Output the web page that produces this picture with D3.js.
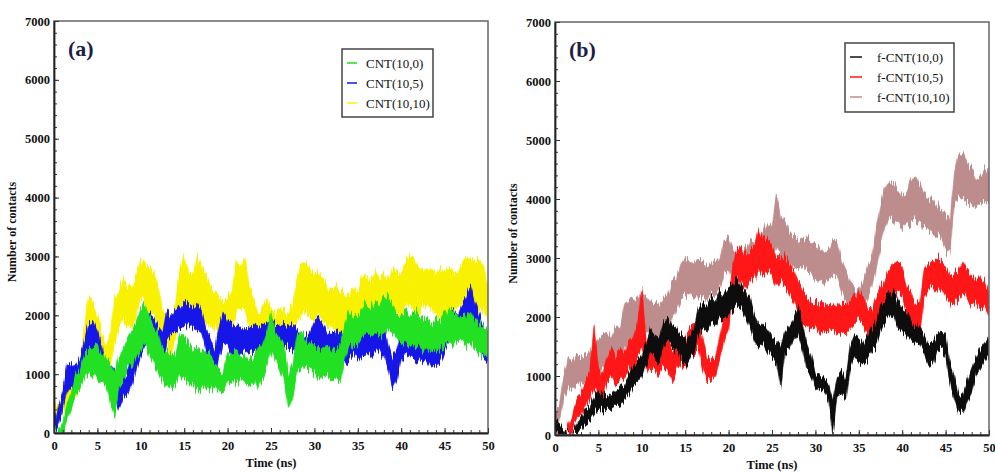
<!DOCTYPE html>
<html>
<head>
<meta charset="utf-8">
<script src="https://cdn.jsdelivr.net/npm/d3@7"></script>
<style>
  body { margin: 0; background: #fff; }
  svg { display: block; }
  text { font-family: "Liberation Serif", "Times New Roman", serif; }
</style>
</head>
<body>
<svg id="chart" width="995" height="473"></svg>
<script>
// time grid, sampled every 0.5 ns (0 .. 50)
const timeStep = 0.5
const times = d3.range(0, 50 + timeStep / 2, timeStep)

const yTicks = [0, 1000, 2000, 3000, 4000, 5000, 6000, 7000]
const xTicks = [0, 5, 10, 15, 20, 25, 30, 35, 40, 45, 50]

// each series read off the picture as a low / high envelope of the noisy trace
// panel (a)
const cnt100Lo = [0, 0, 0, 200, 400, 650, 750, 950, 1000, 950,
  900, 850, 800, 500, 300, 800, 900, 1100, 1100, 1300,
  1400, 1500, 1300, 1150, 1050, 900, 800, 750, 800, 950,
  900, 850, 800, 700, 750, 800, 700, 800, 700, 680,
  850, 900, 850, 950, 850, 800, 900, 750, 900, 1100,
  1400, 1200, 1100, 900, 400, 600, 1000, 1100, 1100, 1050,
  1000, 950, 1000, 950, 900, 950, 900, 1300, 1500, 1450,
  1500, 1650, 1700, 1650, 1700, 1650, 1700, 1750, 1700, 1600,
  1500, 1550, 1450, 1500, 1450, 1400, 1450, 1350, 1400, 1450,
  1500, 1550, 1500, 1550, 1600, 1500, 1550, 1450, 1350, 1300,
  1350]
const cnt100Hi = [30, 50, 200, 500, 700, 1000, 1100, 1350, 1400, 1450,
  1500, 1350, 1250, 1200, 1000, 1300, 1450, 1600, 1750, 1900,
  2100, 2200, 2000, 1800, 1700, 1450, 1400, 1350, 1300, 1700,
  1650, 1550, 1400, 1450, 1400, 1350, 1300, 1200, 1100, 1050,
  1350, 1400, 1400, 1350, 1300, 1250, 1300, 1450, 1500, 1700,
  2050, 1700, 1650, 1500, 1000, 1200, 1650, 1750, 1550, 1500,
  1500, 1450, 1450, 1500, 1400, 1450, 1500, 1850, 2100, 2000,
  1950, 2100, 2200, 2150, 2250, 2200, 2300, 2300, 2200, 2050,
  2000, 2050, 2000, 2100, 2050, 1950, 1900, 1850, 1950, 1900,
  2050, 2100, 2050, 2000, 2000, 1950, 2050, 1900, 1850, 1800,
  1750]

const cnt105Lo = [0, 150, 400, 700, 800, 700, 800, 1100, 1400, 1450,
  1300, 1100, 850, 800, 600, 400, 600, 650, 800, 1100,
  1300, 1450, 1550, 1500, 1300, 1100, 1550, 1700, 1700, 1800,
  1800, 1850, 1800, 1750, 1700, 1400, 1000, 900, 1300, 1500,
  1500, 1350, 1300, 1400, 1400, 1350, 1400, 1400, 1450, 1450,
  1500, 1450, 1450, 1500, 1450, 1450, 1350, 1300, 1300, 1350,
  1400, 1450, 1400, 1350, 1300, 1400, 1300, 1200, 1250, 1350,
  1250, 1300, 1350, 1300, 1350, 1400, 1300, 1100, 750, 900,
  1250, 1350, 1300, 1250, 1200, 1250, 1200, 1100, 1150, 1250,
  1400, 1550, 1600, 1550, 1700, 1800, 1800, 1600, 1400, 1250,
  1200]
const cnt105Hi = [150, 450, 700, 1150, 1200, 1150, 1300, 1600, 1850, 1900,
  1750, 1500, 1100, 1200, 1050, 900, 950, 1000, 1300, 1550,
  1800, 1900, 2050, 2000, 1800, 1700, 2100, 2000, 2100, 2150,
  2250, 2200, 2150, 2200, 2100, 1800, 1600, 1400, 1800, 2050,
  1900, 1850, 1800, 1800, 1750, 1800, 1850, 1800, 1850, 1850,
  1950, 1850, 1800, 1850, 1800, 1850, 1750, 1650, 1650, 1700,
  1900, 1950, 1850, 1700, 1700, 1750, 1700, 1650, 1700, 1750,
  1700, 1750, 1800, 1750, 1800, 1900, 1800, 1500, 1300, 1400,
  1700, 1850, 1800, 1750, 1700, 1800, 1650, 1600, 1700, 1750,
  1800, 2000, 2100, 2000, 2200, 2300, 2500, 2200, 2000, 1800,
  1700]

const cnt1010Lo = [200, 250, 350, 500, 550, 600, 800, 1100, 1500, 1500,
  1300, 1100, 1000, 1200, 1500, 1800, 1900, 1800, 1800, 2000,
  2300, 2200, 2000, 2100, 1800, 1600, 1500, 1300, 1600, 2000,
  2200, 2000, 1950, 2200, 2000, 1900, 1800, 1800, 1700, 1650,
  1700, 1800, 2000, 2100, 2100, 1800, 1500, 1200, 1400, 1600,
  1650, 1600, 1550, 1600, 1600, 1700, 1900, 2000, 2100, 1950,
  1900, 2000, 1900, 1800, 1800, 1750, 1700, 1700, 1650, 1700,
  1650, 1800, 1900, 1850, 1900, 1900, 2000, 1900, 2100, 2100,
  2000, 2100, 2200, 2100, 2050, 2200, 2100, 2150, 2000, 1950,
  2000, 2100, 2050, 2150, 2200, 2300, 2200, 2100, 2050, 2100,
  1900]
const cnt1010Hi = [400, 500, 650, 800, 950, 1000, 1200, 1800, 2350, 2200,
  2000, 1700, 1450, 1700, 2300, 2450, 2600, 2500, 2450, 2700,
  2950, 2900, 2800, 2750, 2500, 2100, 2000, 1950, 2200, 2800,
  3000, 2750, 2700, 3000, 2850, 2700, 2500, 2400, 2300, 2200,
  2300, 2400, 2950, 2800, 3000, 2500, 2300, 2000, 2100, 2300,
  2100, 2050, 2050, 2100, 2000, 2200, 2600, 2900, 2900, 2800,
  2700, 2750, 2600, 2500, 2450, 2500, 2400, 2350, 2400, 2500,
  2350, 2700, 2650, 2600, 2750, 2650, 2700, 2600, 2800, 2750,
  2700, 2900, 3050, 2950, 2800, 2800, 2750, 2800, 2700, 2800,
  2750, 2800, 2750, 2700, 2900, 3000, 2950, 2900, 2950, 2850,
  2400]

// panel (b)
const fcnt100Lo = [50, 0, 0, 0, 0, 50, 100, 200, 250, 350,
  450, 400, 450, 450, 500, 500, 600, 700, 850, 900,
  1000, 1200, 1400, 1300, 1200, 1500, 1600, 1500, 1450, 1300,
  1200, 1250, 1400, 1700, 1800, 1750, 1900, 1850, 2000, 1950,
  2050, 2100, 2200, 2150, 2000, 1800, 1600, 1500, 1550, 1400,
  1300, 1250, 800, 1400, 1450, 1600, 1700, 1450, 1100, 1000,
  800, 750, 750, 600, 0, 650, 700, 600, 1100, 1300,
  1250, 1200, 1300, 1450, 1500, 1750, 1900, 2000, 2050, 1800,
  1750, 1700, 1600, 1550, 1550, 1400, 1200, 1150, 1400, 1450,
  1350, 900, 600, 400, 400, 550, 700, 1000, 1100, 1250,
  1350]
const fcnt100Hi = [250, 200, 100, 30, 30, 200, 300, 450, 480, 650,
  750, 700, 650, 700, 750, 800, 850, 1050, 1200, 1250,
  1350, 1550, 1800, 1700, 1650, 1900, 2000, 1850, 1800, 1700,
  1650, 1650, 1800, 2150, 2250, 2200, 2350, 2250, 2450, 2400,
  2500, 2550, 2650, 2550, 2450, 2300, 2000, 1850, 1900, 1800,
  1650, 1600, 1500, 1750, 1850, 2000, 2150, 1900, 1550, 1350,
  1050, 1000, 950, 900, 600, 1000, 1100, 950, 1500, 1700,
  1650, 1550, 1700, 1800, 1900, 2200, 2300, 2400, 2450, 2250,
  2150, 2100, 1900, 1850, 1850, 1700, 1550, 1550, 1700, 1750,
  1700, 1250, 1000, 650, 700, 900, 1100, 1300, 1450, 1550,
  1650]

const fcnt105Lo = [0, 0, 0, 0, 100, 300, 350, 500, 600, 800,
  700, 600, 900, 1000, 850, 900, 1000, 1150, 1100, 1300,
  1500, 1200, 1050, 1100, 1000, 1150, 1050, 900, 1100, 1200,
  1150, 1300, 1350, 1450, 1100, 900, 950, 1050, 1300, 1600,
  1800, 2300, 2700, 2600, 2500, 2600, 2700, 2800, 2700, 2800,
  2700, 2500, 2600, 2550, 2400, 2300, 2100, 1900, 1850, 1800,
  1850, 1700, 1750, 1750, 1800, 1700, 1750, 1700, 1800, 1900,
  1950, 1850, 1700, 1600, 1800, 2050, 2200, 2300, 2400, 2400,
  2350, 2100, 1900, 1700, 1650, 2300, 2450, 2500, 2450, 2500,
  2350, 2200, 2250, 2300, 2400, 2300, 2200, 2250, 2150, 2200,
  2000]
const fcnt105Hi = [0, 0, 20, 150, 350, 600, 700, 900, 1050, 1850,
  1150, 1000, 1300, 1500, 1350, 1450, 1450, 1600, 1650, 1900,
  2500, 1650, 1550, 1500, 1450, 1700, 1600, 1450, 1500, 1700,
  1650, 1800, 1900, 1950, 1650, 1300, 1300, 1350, 1700, 2050,
  2200, 2900, 3200, 3100, 3050, 3100, 3200, 3500, 3300, 3350,
  3200, 3000, 3050, 3000, 2900, 2800, 2600, 2450, 2350, 2250,
  2300, 2200, 2250, 2200, 2200, 2150, 2250, 2200, 2250, 2400,
  2400, 2350, 2150, 2100, 2350, 2500, 2650, 2800, 2900, 2950,
  2850, 2550, 2400, 2250, 2200, 2800, 2900, 2950, 3000, 2950,
  2850, 2700, 2750, 2800, 2950, 2800, 2700, 2650, 2700, 2600,
  2400]

const fcnt1010Lo = [100, 250, 600, 800, 750, 850, 850, 900, 950, 1000,
  1050, 1100, 1150, 1100, 1200, 1300, 1500, 1600, 1650, 1700,
  1850, 1800, 1700, 1650, 1600, 1700, 1800, 1950, 2100, 2300,
  2350, 2400, 2350, 2300, 2350, 2300, 2400, 2350, 2500, 2750,
  2800, 2600, 2500, 2550, 2650, 2700, 2650, 2750, 2800, 2900,
  2900, 3200, 3050, 3000, 2900, 2850, 2800, 2850, 2800, 2750,
  2650, 2600, 2550, 2650, 2700, 2700, 2450, 2250, 2050, 2000,
  1950, 2150, 2300, 2500, 2800, 3200, 3500, 3700, 3650, 3600,
  3500, 3550, 3600, 3650, 3600, 3550, 3500, 3450, 3400, 3350,
  3150, 3050, 3900, 4050, 4000, 3950, 3900, 3850, 3900, 3950,
  3950]
const fcnt1010Hi = [300, 500, 1000, 1300, 1200, 1350, 1300, 1350, 1400, 1500,
  1600, 1700, 1750, 1650, 1850, 1800, 2200, 2300, 2250, 2300,
  2400, 2350, 2250, 2200, 2200, 2300, 2400, 2600, 2650, 2900,
  3000, 2950, 2900, 3000, 2950, 2850, 2900, 2950, 3000, 3300,
  3350, 3150, 3050, 3100, 3150, 3300, 3200, 3300, 3450, 3600,
  3550, 4100, 3700, 3600, 3450, 3350, 3300, 3350, 3350, 3250,
  3200, 3150, 3100, 3150, 3300, 3300, 2950, 2800, 2600, 2500,
  2450, 2600, 2850, 3000, 3500, 3900, 4200, 4300, 4250, 4150,
  4050, 4100, 4350, 4400, 4250, 4100, 4000, 4000, 3900, 3850,
  3750, 3650, 4500, 4750, 4800, 4600, 4500, 4350, 4400, 4500,
  4450]

const panelA = [
  { name: 'CNT(10,0)', color: '#22e022', lo: cnt100Lo, hi: cnt100Hi },
  { name: 'CNT(10,5)', color: '#1515e8', lo: cnt105Lo, hi: cnt105Hi },
  { name: 'CNT(10,10)', color: '#f8f200', lo: cnt1010Lo, hi: cnt1010Hi }
]
const panelB = [
  { name: 'f-CNT(10,0)', color: '#111111', lo: fcnt100Lo, hi: fcnt100Hi },
  { name: 'f-CNT(10,5)', color: '#ff1414', lo: fcnt105Lo, hi: fcnt105Hi },
  { name: 'f-CNT(10,10)', color: '#bd8c8c', lo: fcnt1010Lo, hi: fcnt1010Hi }
]

const svg = d3.select('#chart')

// roughen the band edges so they read like a noisy MD trace (vertical jitter only)
const defs = svg.append('defs')
const rough = defs.append('filter').attr('id', 'rough')
  .attr('x', '-2%').attr('y', '-10%').attr('width', '104%').attr('height', '120%')
rough.append('feTurbulence')
  .attr('type', 'fractalNoise').attr('baseFrequency', '0.65 0.015')
  .attr('numOctaves', 2).attr('seed', 3).attr('result', 'noise')
rough.append('feColorMatrix').attr('in', 'noise').attr('type', 'matrix')
  .attr('values', '0 0 0 0 0.5  0 1 0 0 0  0 0 1 0 0  0 0 0 0 1')
  .attr('result', 'noiseY')
rough.append('feDisplacementMap')
  .attr('in', 'SourceGraphic').attr('in2', 'noiseY')
  .attr('scale', 18).attr('xChannelSelector', 'R').attr('yChannelSelector', 'G')

const drawPanel = (opts) => {
  const { series, box, tag, legend } = opts
  const x = d3.scaleLinear().domain([0, 50]).range([box.left, box.right])
  const y = d3.scaleLinear().domain([0, 7000]).range([box.bottom, box.top])
  const g = svg.append('g')

  const clipId = 'clip-' + tag
  g.append('clipPath').attr('id', clipId)
    .append('rect')
    .attr('x', box.left).attr('y', box.top)
    .attr('width', box.right - box.left).attr('height', box.bottom - box.top)

  // traces, last legend entry drawn first
  const area = d3.area()
    .x((d, i) => x(times[i]))
    .y0((d) => y(d[0]))
    .y1((d) => y(d[1]))
  const traces = g.append('g').attr('clip-path', `url(#${clipId})`)
    .append('g').attr('filter', 'url(#rough)')
  series.slice().reverse().forEach((s) => {
    const pts = s.lo.map((v, i) => [v, s.hi[i]])
    traces.append('path')
      .datum(pts)
      .attr('d', area)
      .attr('fill', s.color)
      .attr('stroke', s.color)
      .attr('stroke-width', 0.6)
  })

  // frame
  g.append('rect')
    .attr('x', box.left).attr('y', box.top)
    .attr('width', box.right - box.left).attr('height', box.bottom - box.top)
    .attr('fill', 'none').attr('stroke', '#666').attr('stroke-width', 1.5)

  // minor ticks
  g.append('g').attr('transform', `translate(${box.left},0)`)
    .call(d3.axisLeft(y).tickValues(d3.range(0, 7001, 200)).tickSize(-3).tickSizeOuter(0).tickFormat(''))
    .call((a) => a.select('.domain').remove())
  g.append('g').attr('transform', `translate(0,${box.bottom})`)
    .call(d3.axisBottom(x).tickValues(d3.range(0, 51, 1)).tickSize(-3).tickSizeOuter(0).tickFormat(''))
    .call((a) => a.select('.domain').remove())

  // major ticks + labels
  const yAxis = g.append('g').attr('transform', `translate(${box.left},0)`)
    .call(d3.axisLeft(y).tickValues(yTicks).tickSize(-5).tickSizeOuter(0).tickPadding(4).tickFormat(d3.format('d')))
  const xAxis = g.append('g').attr('transform', `translate(0,${box.bottom})`)
    .call(d3.axisBottom(x).tickValues(xTicks).tickSize(-5).tickSizeOuter(0).tickPadding(8))
  ;[yAxis, xAxis].forEach((a) => {
    a.attr('font-family', null)
    a.select('.domain').attr('stroke', '#222').attr('stroke-width', 1.8)
    a.selectAll('text')
      .attr('font-size', 12.5).attr('font-weight', 'bold').attr('fill', '#111')
  })
  g.selectAll('.tick line').attr('stroke', '#333').attr('stroke-width', 1)

  // axis titles
  g.append('text')
    .attr('transform', `translate(${box.left - 38},${(box.top + box.bottom) / 2 + 5}) rotate(-90)`)
    .attr('text-anchor', 'middle')
    .attr('font-size', 12).attr('font-weight', 'bold').attr('fill', '#111')
    .text('Number of contacts')
  g.append('text')
    .attr('x', (box.left + box.right) / 2).attr('y', box.bottom + 34)
    .attr('text-anchor', 'middle')
    .attr('font-size', 12.5).attr('font-weight', 'bold').attr('fill', '#111')
    .text('Time (ns)')

  // panel tag
  g.append('text')
    .attr('x', box.left + 14).attr('y', box.top + 35)
    .attr('font-size', 22).attr('font-weight', 'bold').attr('fill', '#1d1d45')
    .text(`(${tag})`)

  // legend
  const lg = g.append('g')
  lg.append('rect')
    .attr('x', legend.x).attr('y', legend.y)
    .attr('width', legend.w).attr('height', legend.h)
    .attr('fill', '#fff').attr('stroke', '#444').attr('stroke-width', 1.5)
  series.forEach((s, i) => {
    const yy = legend.y + 14 + i * 20
    lg.append('line')
      .attr('x1', legend.x + 5).attr('x2', legend.x + 5 + legend.sample)
      .attr('y1', yy).attr('y2', yy)
      .attr('stroke', s.color).attr('stroke-width', 1.5)
    lg.append('text')
      .attr('x', legend.x + legend.textDx).attr('y', yy + 4.5)
      .attr('font-size', 13).attr('fill', '#111')
      .text(s.name)
  })
}

drawPanel({
  series: panelA,
  tag: 'a',
  box: { left: 54, right: 488, top: 21, bottom: 433 },
  legend: { x: 342, y: 49, w: 91, h: 68, sample: 10, textDx: 24 }
})
drawPanel({
  series: panelB,
  tag: 'b',
  box: { left: 555, right: 989, top: 22, bottom: 435 },
  legend: { x: 845, y: 43, w: 109, h: 69, sample: 12, textDx: 32 }
})
</script>
</body>
</html>
